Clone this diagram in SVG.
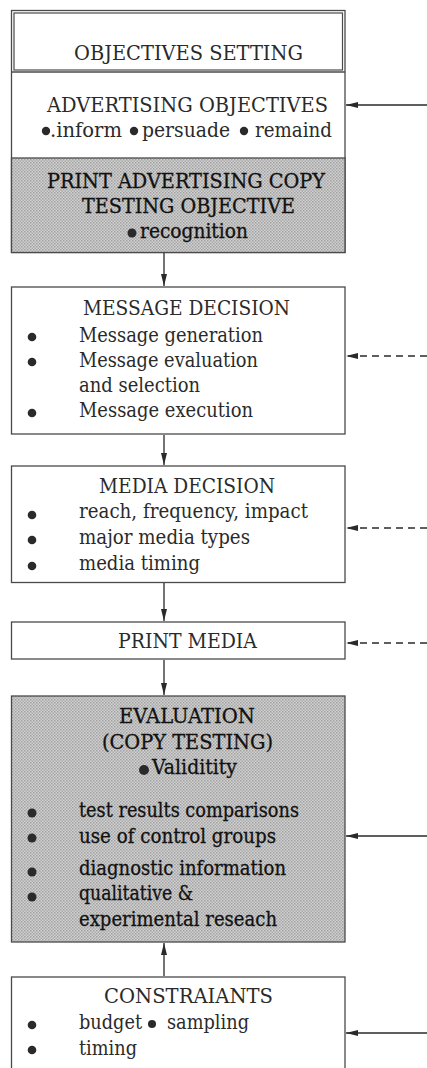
<svg xmlns="http://www.w3.org/2000/svg" width="427" height="1068" viewBox="0 0 427 1068">
<defs>
<marker id="ah" viewBox="0 0 12 6" refX="12" refY="3" markerWidth="12" markerHeight="6" markerUnits="userSpaceOnUse" orient="auto">
<path d="M0,0 L12,3 L0,6 Z" fill="#2a2a2a"/>
</marker>
<pattern id="dots" width="3" height="3" patternUnits="userSpaceOnUse">
<rect width="3" height="3" fill="#d2d2d2"/>
<rect width="1.5" height="1.5" fill="#a0a0a0"/>
<rect x="1.5" y="1.5" width="1.5" height="1.5" fill="#ababab"/>
</pattern>
</defs>
<style>
.box{fill:#fff;stroke:#4a4a4a;stroke-width:1.3}
.shade{fill:url(#dots);stroke:#4a4a4a;stroke-width:1.3}
text{font-family:"DejaVu Serif","Liberation Serif",serif;font-size:19.5px;fill:#2a2a2a}
.dk{fill:#111;stroke:#111;stroke-width:0.3}
.bul{fill:#2a2a2a}
.con{stroke:#2a2a2a;stroke-width:1.3;fill:none}
.dash{stroke-dasharray:7,5}
</style>
<rect width="427" height="1068" fill="#fff"/>

<g id="objectives">
<rect class="box" x="11.5" y="10.5" width="333.5" height="242"/>
<rect x="14" y="13" width="328.5" height="57" fill="none" stroke="#4a4a4a" stroke-width="1.2"/>
<line x1="11.5" y1="72" x2="345" y2="72" stroke="#4a4a4a" stroke-width="1.3"/>
<text x="74" y="60" textLength="229" lengthAdjust="spacingAndGlyphs">OBJECTIVES SETTING</text>
<text x="47" y="112" textLength="281" lengthAdjust="spacingAndGlyphs">ADVERTISING OBJECTIVES</text>
<circle class="bul" cx="46" cy="131" r="4.2"/>
<text x="50" y="137" textLength="72" lengthAdjust="spacingAndGlyphs">.inform</text>
<circle class="bul" cx="134" cy="131" r="4.2"/>
<text x="142" y="137" textLength="88" lengthAdjust="spacingAndGlyphs">persuade</text>
<circle class="bul" cx="244" cy="131" r="4.2"/>
<text x="255" y="137" textLength="77" lengthAdjust="spacingAndGlyphs">remaind</text>
<rect class="shade" x="11.5" y="158" width="333.5" height="94.5"/>
<text class="dk" x="47" y="188" textLength="278" lengthAdjust="spacingAndGlyphs">PRINT ADVERTISING COPY</text>
<text class="dk" x="82" y="213" textLength="213" lengthAdjust="spacingAndGlyphs">TESTING OBJECTIVE</text>
<circle class="bul" cx="132" cy="233" r="4.5"/>
<text class="dk" x="140" y="238" textLength="108" lengthAdjust="spacingAndGlyphs">recognition</text>
</g>

<g id="message">
<rect class="box" x="11.5" y="287" width="333.5" height="147"/>
<text x="83" y="315" textLength="207" lengthAdjust="spacingAndGlyphs">MESSAGE DECISION</text>
<circle class="bul" cx="32" cy="337" r="4.3"/>
<circle class="bul" cx="32" cy="362" r="4.3"/>
<circle class="bul" cx="32" cy="413" r="4.3"/>
<text x="79" y="342" textLength="184" lengthAdjust="spacingAndGlyphs">Message generation</text>
<text x="79" y="367" textLength="179" lengthAdjust="spacingAndGlyphs">Message evaluation</text>
<text x="79" y="392" textLength="121" lengthAdjust="spacingAndGlyphs">and selection</text>
<text x="79" y="417" textLength="174" lengthAdjust="spacingAndGlyphs">Message execution</text>
</g>

<g id="media">
<rect class="box" x="11.5" y="466" width="333.5" height="116.5"/>
<text x="99" y="493" textLength="176" lengthAdjust="spacingAndGlyphs">MEDIA DECISION</text>
<circle class="bul" cx="32" cy="515" r="4.3"/>
<circle class="bul" cx="32" cy="540" r="4.3"/>
<circle class="bul" cx="32" cy="566" r="4.3"/>
<text x="79" y="518" textLength="229" lengthAdjust="spacingAndGlyphs">reach, frequency, impact</text>
<text x="79" y="544" textLength="171" lengthAdjust="spacingAndGlyphs">major media types</text>
<text x="79" y="570" textLength="121" lengthAdjust="spacingAndGlyphs">media timing</text>
</g>

<g id="print">
<rect class="box" x="11.5" y="622" width="333.5" height="37"/>
<text x="118" y="648" textLength="139" lengthAdjust="spacingAndGlyphs">PRINT MEDIA</text>
</g>

<g id="evaluation">
<rect class="shade" x="11.5" y="696" width="333.5" height="246"/>
<text class="dk" x="119" y="723" textLength="136" lengthAdjust="spacingAndGlyphs">EVALUATION</text>
<text class="dk" x="102" y="749" textLength="171" lengthAdjust="spacingAndGlyphs">(COPY TESTING)</text>
<circle class="bul" cx="144" cy="770" r="5"/>
<text class="dk" x="152" y="774" textLength="85" lengthAdjust="spacingAndGlyphs">Validitity</text>
<circle class="bul" cx="32" cy="813" r="4.5"/>
<circle class="bul" cx="32" cy="838" r="4.5"/>
<circle class="bul" cx="32" cy="872" r="4.5"/>
<circle class="bul" cx="32" cy="897" r="4.5"/>
<text class="dk" x="79" y="817" textLength="220" lengthAdjust="spacingAndGlyphs">test results comparisons</text>
<text class="dk" x="79" y="843" textLength="197" lengthAdjust="spacingAndGlyphs">use of control groups</text>
<text class="dk" x="79" y="875" textLength="207" lengthAdjust="spacingAndGlyphs">diagnostic information</text>
<text class="dk" x="79" y="900" textLength="114" lengthAdjust="spacingAndGlyphs">qualitative &amp;</text>
<text class="dk" x="79" y="926" textLength="198" lengthAdjust="spacingAndGlyphs">experimental reseach</text>
</g>

<g id="constraints">
<rect class="box" x="11.5" y="977" width="333.5" height="100"/>
<text x="104" y="1003" textLength="169" lengthAdjust="spacingAndGlyphs">CONSTRAIANTS</text>
<circle class="bul" cx="32" cy="1025" r="4.3"/>
<circle class="bul" cx="32" cy="1050" r="4.3"/>
<text x="79" y="1029" textLength="63" lengthAdjust="spacingAndGlyphs">budget</text>
<circle class="bul" cx="152" cy="1024" r="4"/>
<text x="167" y="1029" textLength="82" lengthAdjust="spacingAndGlyphs">sampling</text>
<text x="79" y="1055" textLength="58" lengthAdjust="spacingAndGlyphs">timing</text>
</g>

<g id="connectors">
<line class="con" x1="164" y1="253" x2="164" y2="286" marker-end="url(#ah)"/>
<line class="con" x1="164" y1="435" x2="164" y2="465" marker-end="url(#ah)"/>
<line class="con" x1="164" y1="583" x2="164" y2="621" marker-end="url(#ah)"/>
<line class="con" x1="164" y1="660" x2="164" y2="695" marker-end="url(#ah)"/>
<line class="con" x1="164" y1="976" x2="164" y2="943" marker-end="url(#ah)"/>
<line class="con" x1="427" y1="105" x2="346" y2="105" marker-end="url(#ah)"/>
<line class="con dash" x1="427" y1="356" x2="346" y2="356" marker-end="url(#ah)"/>
<line class="con dash" x1="427" y1="528" x2="346" y2="528" marker-end="url(#ah)"/>
<line class="con dash" x1="427" y1="643" x2="346" y2="643" marker-end="url(#ah)"/>
<line class="con" x1="427" y1="836" x2="346" y2="836" marker-end="url(#ah)"/>
<line class="con" x1="427" y1="1033" x2="346" y2="1033" marker-end="url(#ah)"/>
</g>
</svg>
